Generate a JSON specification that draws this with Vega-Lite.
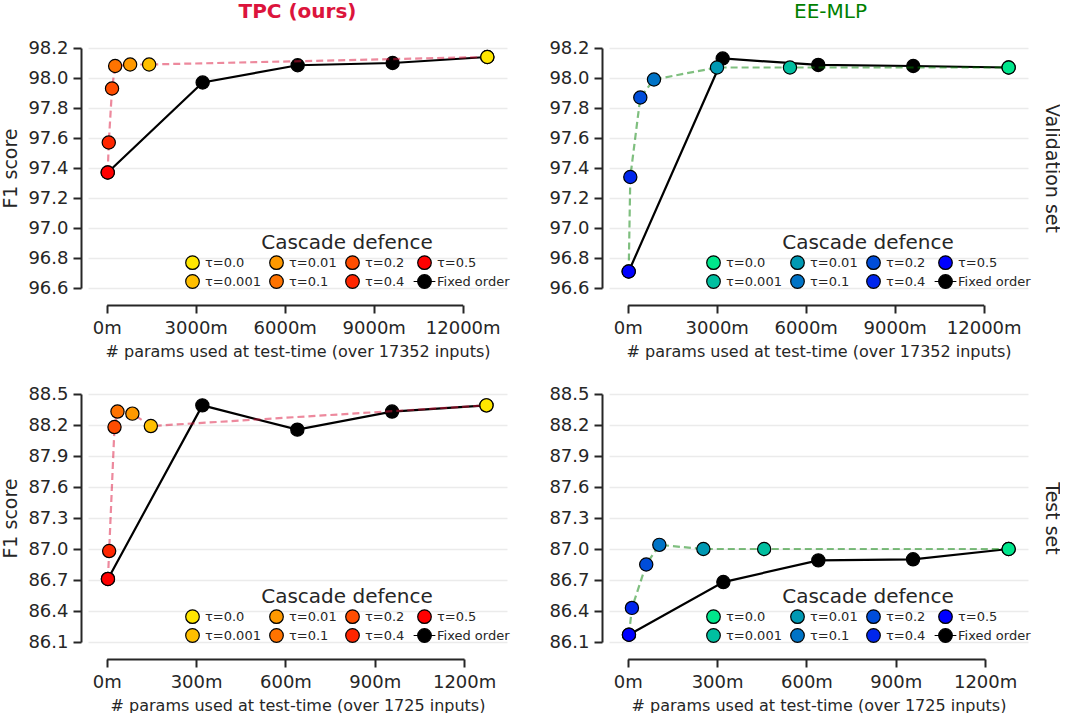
{
  "$schema": "https://vega.github.io/schema/vega-lite/v6.json",
  "padding": {"top": 2, "left": 1, "right": 0, "bottom": 0},
  "background": "white",
  "datasets": {
    "tpc_val": [
      {"series": "Fixed order", "kind": "fixed", "params": 35, "f1": 97.37},
      {"series": "Fixed order", "kind": "fixed", "params": 3235, "f1": 97.97},
      {"series": "Fixed order", "kind": "fixed", "params": 6437, "f1": 98.085},
      {"series": "Fixed order", "kind": "fixed", "params": 9638, "f1": 98.10},
      {"series": "Fixed order", "kind": "fixed", "params": 12830, "f1": 98.14},
      {"series": "τ=0.5", "kind": "cascade", "params": 35, "f1": 97.37},
      {"series": "τ=0.4", "kind": "cascade", "params": 70, "f1": 97.57},
      {"series": "τ=0.2", "kind": "cascade", "params": 180, "f1": 97.93},
      {"series": "τ=0.1", "kind": "cascade", "params": 285, "f1": 98.08},
      {"series": "τ=0.01", "kind": "cascade", "params": 790, "f1": 98.09},
      {"series": "τ=0.001", "kind": "cascade", "params": 1430, "f1": 98.09},
      {"series": "τ=0.0", "kind": "cascade", "params": 12830, "f1": 98.14}
    ],
    "ee_val": [
      {"series": "Fixed order", "kind": "fixed", "params": 34, "f1": 96.71},
      {"series": "Fixed order", "kind": "fixed", "params": 3202, "f1": 98.13},
      {"series": "Fixed order", "kind": "fixed", "params": 6423, "f1": 98.087},
      {"series": "Fixed order", "kind": "fixed", "params": 9625, "f1": 98.08},
      {"series": "Fixed order", "kind": "fixed", "params": 12840, "f1": 98.07},
      {"series": "τ=0.5", "kind": "cascade", "params": 34, "f1": 96.71},
      {"series": "τ=0.4", "kind": "cascade", "params": 88, "f1": 97.34},
      {"series": "τ=0.2", "kind": "cascade", "params": 425, "f1": 97.87},
      {"series": "τ=0.1", "kind": "cascade", "params": 886, "f1": 97.99},
      {"series": "τ=0.01", "kind": "cascade", "params": 3010, "f1": 98.07},
      {"series": "τ=0.001", "kind": "cascade", "params": 5470, "f1": 98.07},
      {"series": "τ=0.0", "kind": "cascade", "params": 12840, "f1": 98.07}
    ],
    "tpc_test": [
      {"series": "Fixed order", "kind": "fixed", "params": 4, "f1": 86.71},
      {"series": "Fixed order", "kind": "fixed", "params": 321, "f1": 88.39},
      {"series": "Fixed order", "kind": "fixed", "params": 640, "f1": 88.155},
      {"series": "Fixed order", "kind": "fixed", "params": 958, "f1": 88.33},
      {"series": "Fixed order", "kind": "fixed", "params": 1275, "f1": 88.39},
      {"series": "τ=0.5", "kind": "cascade", "params": 4, "f1": 86.71},
      {"series": "τ=0.4", "kind": "cascade", "params": 8, "f1": 86.98},
      {"series": "τ=0.2", "kind": "cascade", "params": 26, "f1": 88.18},
      {"series": "τ=0.1", "kind": "cascade", "params": 36, "f1": 88.33},
      {"series": "τ=0.01", "kind": "cascade", "params": 86, "f1": 88.31},
      {"series": "τ=0.001", "kind": "cascade", "params": 148, "f1": 88.19},
      {"series": "τ=0.0", "kind": "cascade", "params": 1275, "f1": 88.39}
    ],
    "ee_test": [
      {"series": "Fixed order", "kind": "fixed", "params": 4, "f1": 86.17},
      {"series": "Fixed order", "kind": "fixed", "params": 321, "f1": 86.68},
      {"series": "Fixed order", "kind": "fixed", "params": 640, "f1": 86.89},
      {"series": "Fixed order", "kind": "fixed", "params": 958, "f1": 86.90},
      {"series": "Fixed order", "kind": "fixed", "params": 1279, "f1": 87.00},
      {"series": "τ=0.5", "kind": "cascade", "params": 4, "f1": 86.17},
      {"series": "τ=0.4", "kind": "cascade", "params": 14, "f1": 86.43},
      {"series": "τ=0.2", "kind": "cascade", "params": 62, "f1": 86.85},
      {"series": "τ=0.1", "kind": "cascade", "params": 106, "f1": 87.04},
      {"series": "τ=0.01", "kind": "cascade", "params": 254, "f1": 87.00},
      {"series": "τ=0.001", "kind": "cascade", "params": 458, "f1": 87.00},
      {"series": "τ=0.0", "kind": "cascade", "params": 1279, "f1": 87.00}
    ]
  },
  "spacing": 26,
  "resolve": {"scale": {"x": "independent", "y": "independent", "fill": "independent"}, "legend": {"fill": "independent"}},
  "vconcat": [
    {
      "spacing": 38,
      "resolve": {"scale": {"x": "independent", "y": "independent", "fill": "independent"}, "legend": {"fill": "independent"}},
      "hconcat": [
        {
          "width": 419, "height": 240,
          "data": {"name": "tpc_val"},
          "title": {"text": "TPC (ours)", "color": "#dc143c", "fontWeight": "bold", "fontSize": 20, "frame": "group", "anchor": "middle", "offset": 17},
          "encoding": {
            "x": {"field": "params", "type": "quantitative", "scale": {"domain": [-630, 13493], "nice": false, "zero": false},
              "axis": {"values": [0, 3000, 6000, 9000, 12000], "labelExpr": "datum.value + 'm'", "grid": false, "offset": 17, "domainDash": [0, 18.7, 356, 3000], "title": "# params used at test-time (over 17352 inputs)", "titleFontSize": 16, "labelPadding": 6, "titlePadding": 6}},
            "y": {"field": "f1", "type": "quantitative", "scale": {"domain": [96.6, 98.2], "nice": false, "zero": false},
              "axis": {"values": [96.6, 96.8, 97.0, 97.2, 97.4, 97.6, 97.8, 98.0, 98.2], "format": ".1f", "grid": true, "offset": 7, "title": "F1 score", "titleFontSize": 19, "labelPadding": 5, "titlePadding": 7}}
          },
          "layer": [
            {"transform": [{"filter": "datum.kind == 'fixed'"}], "mark": {"type": "line", "color": "black", "strokeWidth": 2.2}},
            {"transform": [{"filter": "datum.kind == 'fixed'"}], "mark": {"type": "point", "filled": true, "shape": "circle", "size": 175, "stroke": "black", "strokeWidth": 1.2, "opacity": 1},
              "encoding": {"fill": {"field": "series", "type": "nominal",
                "scale": {"domain": ["τ=0.0", "τ=0.001", "τ=0.01", "τ=0.1", "τ=0.2", "τ=0.4", "τ=0.5", "Fixed order"], "range": ["#ffe600", "#ffbf00", "#ff9900", "#ff7300", "#ff4d00", "#ff2600", "#ff0000", "#000000"]},
                "legend": {"title": "Cascade defence", "orient": "bottom-right", "offset": -3, "columns": 4, "titleFontSize": 20, "titleAnchor": "middle", "labelFontSize": 13, "symbolSize": 185, "symbolStrokeColor": "black", "symbolStrokeWidth": 1.2, "symbolOpacity": 1, "columnPadding": 6, "rowPadding": 0, "labelOffset": 5, "titlePadding": 2,
                  "encode": {"symbols": {"update": {"shape": {"signal": "datum.value === 'Fixed order' ? 'M-1.6,0H-1M1,0H1.6M1,0A1,1,0,1,1,-1,0A1,1,0,1,1,1,0Z' : 'circle'"}}}}}}}},
            {"transform": [{"filter": "datum.kind == 'cascade'"}], "mark": {"type": "line", "color": "#dc143c", "opacity": 0.5, "strokeWidth": 2.2, "strokeDash": [7, 4]}},
            {"transform": [{"filter": "datum.kind == 'cascade'"}], "mark": {"type": "point", "filled": true, "shape": "circle", "size": 175, "stroke": "black", "strokeWidth": 1.2, "opacity": 1},
              "encoding": {"fill": {"field": "series", "type": "nominal",
                "scale": {"domain": ["τ=0.0", "τ=0.001", "τ=0.01", "τ=0.1", "τ=0.2", "τ=0.4", "τ=0.5", "Fixed order"], "range": ["#ffe600", "#ffbf00", "#ff9900", "#ff7300", "#ff4d00", "#ff2600", "#ff0000", "#000000"]},
                "legend": {"title": "Cascade defence", "orient": "bottom-right", "offset": -3, "columns": 4, "titleFontSize": 20, "titleAnchor": "middle", "labelFontSize": 13, "symbolSize": 185, "symbolStrokeColor": "black", "symbolStrokeWidth": 1.2, "symbolOpacity": 1, "columnPadding": 6, "rowPadding": 0, "labelOffset": 5, "titlePadding": 2,
                  "encode": {"symbols": {"update": {"shape": {"signal": "datum.value === 'Fixed order' ? 'M-1.6,0H-1M1,0H1.6M1,0A1,1,0,1,1,-1,0A1,1,0,1,1,1,0Z' : 'circle'"}}}}}}}}
          ]
        },
        {
          "width": 419, "height": 240,
          "data": {"name": "ee_val"},
          "title": {"text": "EE-MLP", "color": "#008000", "fontWeight": "normal", "fontSize": 20, "frame": "group", "anchor": "middle", "offset": 17, "dx": 12},
          "resolve": {"axis": {"y": "independent"}},
          "encoding": {
            "x": {"field": "params", "type": "quantitative", "scale": {"domain": [-630, 13493], "nice": false, "zero": false},
              "axis": {"values": [0, 3000, 6000, 9000, 12000], "labelExpr": "datum.value + 'm'", "grid": false, "offset": 17, "domainDash": [0, 18.7, 356, 3000], "title": "# params used at test-time (over 17352 inputs)", "titleFontSize": 16, "labelPadding": 6, "titlePadding": 6}},
            "y": {"field": "f1", "type": "quantitative", "scale": {"domain": [96.6, 98.2], "nice": false, "zero": false}, "axis": null}
          },
          "layer": [
            {"transform": [{"filter": "datum.kind == 'fixed'"}], "mark": {"type": "line", "color": "black", "strokeWidth": 2.2},
              "encoding": {"y": {"field": "f1", "type": "quantitative", "scale": {"domain": [96.6, 98.2], "nice": false, "zero": false},
                "axis": {"orient": "left", "values": [96.6, 96.8, 97.0, 97.2, 97.4, 97.6, 97.8, 98.0, 98.2], "format": ".1f", "grid": true, "offset": 7, "title": null, "labelPadding": 5}}}},
            {"transform": [{"filter": "datum.kind == 'fixed'"}], "mark": {"type": "point", "filled": true, "shape": "circle", "size": 175, "stroke": "black", "strokeWidth": 1.2, "opacity": 1},
              "encoding": {"fill": {"field": "series", "type": "nominal",
                "scale": {"domain": ["τ=0.0", "τ=0.001", "τ=0.01", "τ=0.1", "τ=0.2", "τ=0.4", "τ=0.5", "Fixed order"], "range": ["#00e68c", "#00bfa0", "#0099b3", "#0073c6", "#004dd9", "#0026ec", "#0000ff", "#000000"]},
                "legend": {"title": "Cascade defence", "orient": "bottom-right", "offset": -3, "columns": 4, "titleFontSize": 20, "titleAnchor": "middle", "labelFontSize": 13, "symbolSize": 185, "symbolStrokeColor": "black", "symbolStrokeWidth": 1.2, "symbolOpacity": 1, "columnPadding": 6, "rowPadding": 0, "labelOffset": 5, "titlePadding": 2,
                  "encode": {"symbols": {"update": {"shape": {"signal": "datum.value === 'Fixed order' ? 'M-1.6,0H-1M1,0H1.6M1,0A1,1,0,1,1,-1,0A1,1,0,1,1,1,0Z' : 'circle'"}}}}}}}},
            {"transform": [{"filter": "datum.kind == 'cascade'"}], "mark": {"type": "line", "color": "#008000", "opacity": 0.5, "strokeWidth": 2.2, "strokeDash": [7, 4]}},
            {"transform": [{"filter": "datum.kind == 'cascade'"}], "mark": {"type": "point", "filled": true, "shape": "circle", "size": 175, "stroke": "black", "strokeWidth": 1.2, "opacity": 1},
              "encoding": {
                "y": {"field": "f1", "type": "quantitative", "scale": {"domain": [96.6, 98.2], "nice": false, "zero": false},
                  "axis": {"orient": "right", "title": "Validation set", "labels": false, "ticks": false, "domain": false, "grid": false, "titleFontSize": 19, "titlePadding": 13, "titleAngle": 90}},
                "fill": {"field": "series", "type": "nominal",
                "scale": {"domain": ["τ=0.0", "τ=0.001", "τ=0.01", "τ=0.1", "τ=0.2", "τ=0.4", "τ=0.5", "Fixed order"], "range": ["#00e68c", "#00bfa0", "#0099b3", "#0073c6", "#004dd9", "#0026ec", "#0000ff", "#000000"]},
                "legend": {"title": "Cascade defence", "orient": "bottom-right", "offset": -3, "columns": 4, "titleFontSize": 20, "titleAnchor": "middle", "labelFontSize": 13, "symbolSize": 185, "symbolStrokeColor": "black", "symbolStrokeWidth": 1.2, "symbolOpacity": 1, "columnPadding": 6, "rowPadding": 0, "labelOffset": 5, "titlePadding": 2,
                  "encode": {"symbols": {"update": {"shape": {"signal": "datum.value === 'Fixed order' ? 'M-1.6,0H-1M1,0H1.6M1,0A1,1,0,1,1,-1,0A1,1,0,1,1,1,0Z' : 'circle'"}}}}}}}}
          ]
        }
      ]
    },
    {
      "spacing": 38,
      "resolve": {"scale": {"x": "independent", "y": "independent", "fill": "independent"}, "legend": {"fill": "independent"}},
      "hconcat": [
        {
          "width": 419, "height": 248,
          "data": {"name": "tpc_test"},
          "encoding": {
            "x": {"field": "params", "type": "quantitative", "scale": {"domain": [-63, 1344], "nice": false, "zero": false},
              "axis": {"values": [0, 300, 600, 900, 1200], "labelExpr": "datum.value + 'm'", "grid": false, "offset": 17, "domainDash": [0, 18.7, 357.3, 3000], "title": "# params used at test-time (over 1725 inputs)", "titleFontSize": 16, "labelPadding": 6, "titlePadding": 6}},
            "y": {"field": "f1", "type": "quantitative", "scale": {"domain": [86.1, 88.5], "nice": false, "zero": false},
              "axis": {"values": [86.1, 86.4, 86.7, 87.0, 87.3, 87.6, 87.9, 88.2, 88.5], "format": ".1f", "grid": true, "offset": 7, "title": "F1 score", "titleFontSize": 19, "labelPadding": 5, "titlePadding": 7}}
          },
          "layer": [
            {"transform": [{"filter": "datum.kind == 'fixed'"}], "mark": {"type": "line", "color": "black", "strokeWidth": 2.2}},
            {"transform": [{"filter": "datum.kind == 'fixed'"}], "mark": {"type": "point", "filled": true, "shape": "circle", "size": 175, "stroke": "black", "strokeWidth": 1.2, "opacity": 1},
              "encoding": {"fill": {"field": "series", "type": "nominal",
                "scale": {"domain": ["τ=0.0", "τ=0.001", "τ=0.01", "τ=0.1", "τ=0.2", "τ=0.4", "τ=0.5", "Fixed order"], "range": ["#ffe600", "#ffbf00", "#ff9900", "#ff7300", "#ff4d00", "#ff2600", "#ff0000", "#000000"]},
                "legend": {"title": "Cascade defence", "orient": "bottom-right", "offset": -3, "columns": 4, "titleFontSize": 20, "titleAnchor": "middle", "labelFontSize": 13, "symbolSize": 185, "symbolStrokeColor": "black", "symbolStrokeWidth": 1.2, "symbolOpacity": 1, "columnPadding": 6, "rowPadding": 0, "labelOffset": 5, "titlePadding": 2,
                  "encode": {"symbols": {"update": {"shape": {"signal": "datum.value === 'Fixed order' ? 'M-1.6,0H-1M1,0H1.6M1,0A1,1,0,1,1,-1,0A1,1,0,1,1,1,0Z' : 'circle'"}}}}}}}},
            {"transform": [{"filter": "datum.kind == 'cascade'"}], "mark": {"type": "line", "color": "#dc143c", "opacity": 0.5, "strokeWidth": 2.2, "strokeDash": [7, 4]}},
            {"transform": [{"filter": "datum.kind == 'cascade'"}], "mark": {"type": "point", "filled": true, "shape": "circle", "size": 175, "stroke": "black", "strokeWidth": 1.2, "opacity": 1},
              "encoding": {"fill": {"field": "series", "type": "nominal",
                "scale": {"domain": ["τ=0.0", "τ=0.001", "τ=0.01", "τ=0.1", "τ=0.2", "τ=0.4", "τ=0.5", "Fixed order"], "range": ["#ffe600", "#ffbf00", "#ff9900", "#ff7300", "#ff4d00", "#ff2600", "#ff0000", "#000000"]},
                "legend": {"title": "Cascade defence", "orient": "bottom-right", "offset": -3, "columns": 4, "titleFontSize": 20, "titleAnchor": "middle", "labelFontSize": 13, "symbolSize": 185, "symbolStrokeColor": "black", "symbolStrokeWidth": 1.2, "symbolOpacity": 1, "columnPadding": 6, "rowPadding": 0, "labelOffset": 5, "titlePadding": 2,
                  "encode": {"symbols": {"update": {"shape": {"signal": "datum.value === 'Fixed order' ? 'M-1.6,0H-1M1,0H1.6M1,0A1,1,0,1,1,-1,0A1,1,0,1,1,1,0Z' : 'circle'"}}}}}}}}
          ]
        },
        {
          "width": 419, "height": 248,
          "data": {"name": "ee_test"},
          "resolve": {"axis": {"y": "independent"}},
          "encoding": {
            "x": {"field": "params", "type": "quantitative", "scale": {"domain": [-63, 1344], "nice": false, "zero": false},
              "axis": {"values": [0, 300, 600, 900, 1200], "labelExpr": "datum.value + 'm'", "grid": false, "offset": 17, "domainDash": [0, 18.7, 357.3, 3000], "title": "# params used at test-time (over 1725 inputs)", "titleFontSize": 16, "labelPadding": 6, "titlePadding": 6}},
            "y": {"field": "f1", "type": "quantitative", "scale": {"domain": [86.1, 88.5], "nice": false, "zero": false}, "axis": null}
          },
          "layer": [
            {"transform": [{"filter": "datum.kind == 'fixed'"}], "mark": {"type": "line", "color": "black", "strokeWidth": 2.2},
              "encoding": {"y": {"field": "f1", "type": "quantitative", "scale": {"domain": [86.1, 88.5], "nice": false, "zero": false},
                "axis": {"orient": "left", "values": [86.1, 86.4, 86.7, 87.0, 87.3, 87.6, 87.9, 88.2, 88.5], "format": ".1f", "grid": true, "offset": 7, "title": null, "labelPadding": 5}}}},
            {"transform": [{"filter": "datum.kind == 'fixed'"}], "mark": {"type": "point", "filled": true, "shape": "circle", "size": 175, "stroke": "black", "strokeWidth": 1.2, "opacity": 1},
              "encoding": {"fill": {"field": "series", "type": "nominal",
                "scale": {"domain": ["τ=0.0", "τ=0.001", "τ=0.01", "τ=0.1", "τ=0.2", "τ=0.4", "τ=0.5", "Fixed order"], "range": ["#00e68c", "#00bfa0", "#0099b3", "#0073c6", "#004dd9", "#0026ec", "#0000ff", "#000000"]},
                "legend": {"title": "Cascade defence", "orient": "bottom-right", "offset": -3, "columns": 4, "titleFontSize": 20, "titleAnchor": "middle", "labelFontSize": 13, "symbolSize": 185, "symbolStrokeColor": "black", "symbolStrokeWidth": 1.2, "symbolOpacity": 1, "columnPadding": 6, "rowPadding": 0, "labelOffset": 5, "titlePadding": 2,
                  "encode": {"symbols": {"update": {"shape": {"signal": "datum.value === 'Fixed order' ? 'M-1.6,0H-1M1,0H1.6M1,0A1,1,0,1,1,-1,0A1,1,0,1,1,1,0Z' : 'circle'"}}}}}}}},
            {"transform": [{"filter": "datum.kind == 'cascade'"}], "mark": {"type": "line", "color": "#008000", "opacity": 0.5, "strokeWidth": 2.2, "strokeDash": [7, 4]}},
            {"transform": [{"filter": "datum.kind == 'cascade'"}], "mark": {"type": "point", "filled": true, "shape": "circle", "size": 175, "stroke": "black", "strokeWidth": 1.2, "opacity": 1},
              "encoding": {
                "y": {"field": "f1", "type": "quantitative", "scale": {"domain": [86.1, 88.5], "nice": false, "zero": false},
                  "axis": {"orient": "right", "title": "Test set", "labels": false, "ticks": false, "domain": false, "grid": false, "titleFontSize": 19, "titlePadding": 13, "titleAngle": 90}},
                "fill": {"field": "series", "type": "nominal",
                "scale": {"domain": ["τ=0.0", "τ=0.001", "τ=0.01", "τ=0.1", "τ=0.2", "τ=0.4", "τ=0.5", "Fixed order"], "range": ["#00e68c", "#00bfa0", "#0099b3", "#0073c6", "#004dd9", "#0026ec", "#0000ff", "#000000"]},
                "legend": {"title": "Cascade defence", "orient": "bottom-right", "offset": -3, "columns": 4, "titleFontSize": 20, "titleAnchor": "middle", "labelFontSize": 13, "symbolSize": 185, "symbolStrokeColor": "black", "symbolStrokeWidth": 1.2, "symbolOpacity": 1, "columnPadding": 6, "rowPadding": 0, "labelOffset": 5, "titlePadding": 2,
                  "encode": {"symbols": {"update": {"shape": {"signal": "datum.value === 'Fixed order' ? 'M-1.6,0H-1M1,0H1.6M1,0A1,1,0,1,1,-1,0A1,1,0,1,1,1,0Z' : 'circle'"}}}}}}}}
          ]
        }
      ]
    }
  ],
  "config": {
    "font": "DejaVu Sans",
    "view": {"stroke": null},
    "axis": {"labelFont": "DejaVu Sans", "titleFont": "DejaVu Sans", "labelColor": "#262626", "titleColor": "#262626", "domainColor": "#262626", "tickColor": "#262626", "domainWidth": 2, "tickWidth": 2, "tickSize": 8, "labelFontSize": 18, "titleFontWeight": "normal", "labelFlush": false, "labelOverlap": false, "gridColor": "#ebebeb", "gridWidth": 1.5},
    "legend": {"labelFont": "DejaVu Sans", "titleFont": "DejaVu Sans", "labelColor": "#262626", "titleColor": "#262626", "titleFontWeight": "normal"},
    "title": {"font": "DejaVu Sans"}
  }
}
